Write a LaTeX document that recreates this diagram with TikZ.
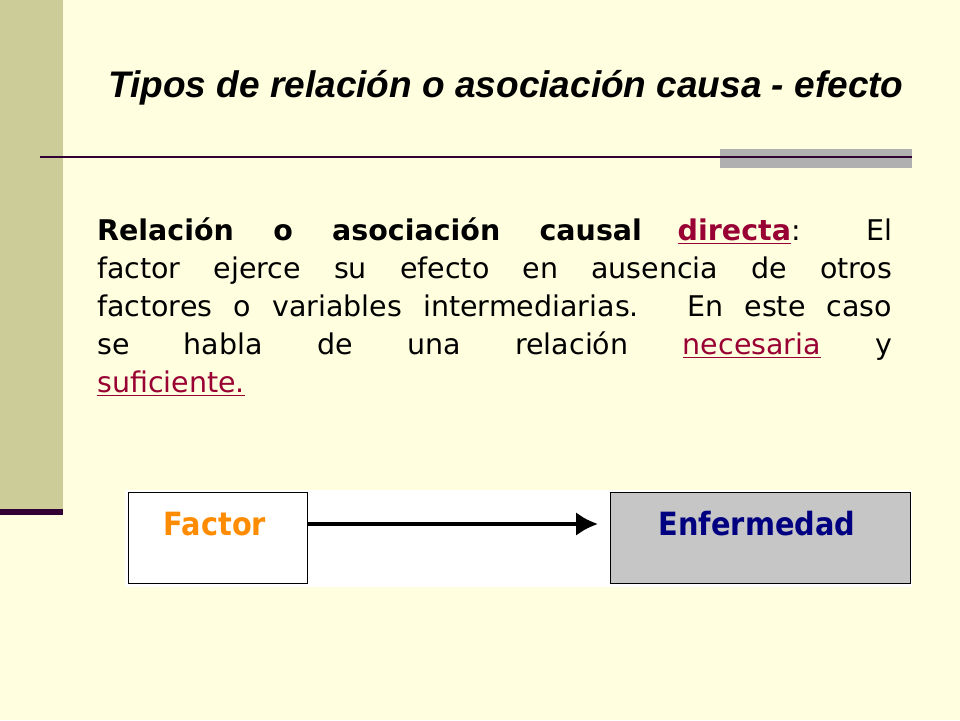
\documentclass[tikz,border=0pt]{standalone}
\usepackage{fontspec}
\usetikzlibrary{arrows.meta}
\setmainfont{DejaVu Sans}
\newfontfamily\titlefont{Liberation Sans}
\newfontfamily\boxfont{DejaVu Sans Condensed}
\definecolor{bg}{HTML}{FFFFE0}
\definecolor{olive}{HTML}{CCCC99}
\definecolor{dpurple}{HTML}{330033}
\definecolor{lnk}{HTML}{990033}
\definecolor{bargray}{HTML}{B0B0B0}
\newcommand{\lk}[1]{\textcolor{lnk}{\underline{#1}}}
\tikzset{
  boxst/.style={draw=black, line width=1.2pt, minimum width=179pt, minimum height=91pt, anchor=north west, inner sep=0pt},
  boxlabel/.style={font=\boxfont\bfseries\fontsize{32}{36}\selectfont, anchor=center}
}
\begin{document}
\begin{tikzpicture}[x=1pt,y=-1pt]
\useasboundingbox (0,0) rectangle (960,720);
\fill[bg] (0,0) rectangle (960,720);
\fill[olive] (0,0) rectangle (63,510);
\fill[dpurple] (0,509) rectangle (63,515);
\fill[bargray] (720,149) rectangle (912,168);
\draw[dpurple, line width=2pt] (40,157) -- (912,157);
\node[font=\titlefont\bfseries\itshape\fontsize{37}{42}\selectfont, anchor=center] (title) at (506,88) {Tipos de relación o asociación causa - efecto};
\node[anchor=north west, text width=795pt, inner sep=0pt, align=justify, font=\fontsize{28.5}{38}\selectfont] (body) at (97,218)
{\textbf{Relación o asociación causal} \textcolor{lnk}{\underline{\textbf{directa}}}: El\linebreak
factor ejerce su efecto en ausencia de otros\linebreak
factores o variables intermediarias. En este caso\linebreak
se habla de una relación \lk{necesaria} y\linebreak
\lk{suficiente.}\par};
\fill[white] (125,490) rectangle (912,587);
\node[boxst, fill=white] (f) at (128,492) {};
\node[boxst, fill=gray!45, minimum width=300pt] (e) at (610,492) {};
\node[boxlabel, text=orange!90!yellow] (ft) at (215,524) {Factor};
\node[boxlabel, text=blue!50!black] (et) at (757,524) {Enfermedad};
\coordinate (fa) at (307,524);
\coordinate (ea) at (598,524);
\draw[line width=4.5pt, -{Latex[length=22pt,width=24pt]}] (fa) -- (ea);
\end{tikzpicture}
\end{document}
